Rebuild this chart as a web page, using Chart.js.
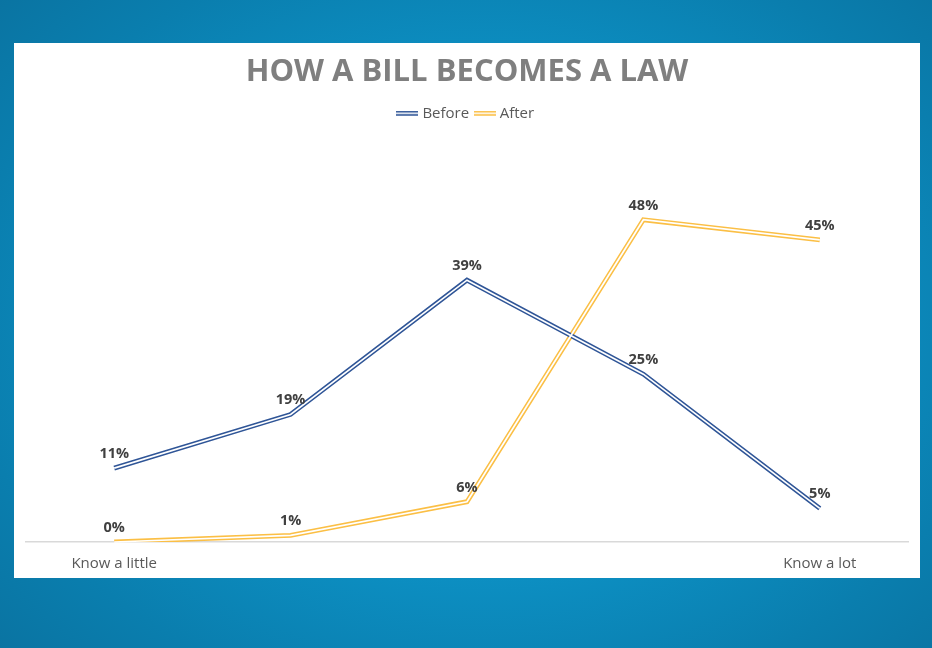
<!DOCTYPE html>
<html>
<head>
<meta charset="utf-8">
<script src="https://cdn.jsdelivr.net/npm/chart.js@4.4.0/dist/chart.umd.min.js"></script>
<style>
html,body{margin:0;padding:0;width:932px;height:648px;overflow:hidden;}
body{background:radial-gradient(ellipse 70% 75% at 52% 50%, #12a2d6 0%, #0d93c7 45%, #0a7eae 80%, #0a74a2 100%);}
#panel{position:absolute;left:14px;top:43px;width:906px;height:535px;background:#fff;}
#panel canvas{display:block;}
</style>
</head>
<body>
<div id="panel"><canvas id="c" width="906" height="535"></canvas></div>
<script>
const categories = ['Know a little', '', '', '', 'Know a lot'];
const beforeValues = [11, 19, 39, 25, 5];
const afterValues = [0, 1, 6, 48, 45];
const seriesNames = ['Before', 'After'];

const COLORS = ['#2f5597', '#fbbf45'];

function legendMarker(color){
  const cv = document.createElement('canvas');
  cv.width = 22; cv.height = 6;
  const g = cv.getContext('2d');
  g.fillStyle = color; g.fillRect(0,0,22,5);
  g.fillStyle = '#fff'; g.fillRect(0,1.7,22,1.6);
  return cv;
}

const legendGap = {
  id: 'legendGap',
  beforeInit(chart){
    const lg = chart.legend;
    if (!lg) return;
    const fit = lg.fit;
    lg.fit = function(){ fit.call(this); this.height += 8; };
  }
};

const doubleLine = {
  id: 'doubleLine',
  afterDatasetsDraw(chart){
    const ctx = chart.ctx;
    chart.data.datasets.forEach((ds, i) => {
      const meta = chart.getDatasetMeta(i);
      if (meta.hidden) return;
      ctx.save();
      ctx.beginPath();
      meta.data.forEach((p, j) => { if (j === 0) ctx.moveTo(p.x, p.y); else ctx.lineTo(p.x, p.y); });
      ctx.strokeStyle = '#ffffff';
      ctx.lineWidth = 1.7;
      ctx.lineJoin = 'miter';
      ctx.stroke();
      ctx.restore();
    });
  }
};

const dataLabels = {
  id: 'dataLabels',
  afterDatasetsDraw(chart){
    const ctx = chart.ctx;
    ctx.save();
    ctx.font = 'bold 14.5px "Open Sans"';
    ctx.fillStyle = '#404040';
    ctx.textAlign = 'center';
    ctx.textBaseline = 'bottom';
    chart.data.datasets.forEach((ds, i) => {
      const meta = chart.getDatasetMeta(i);
      meta.data.forEach((p, j) => {
        ctx.fillText(ds.data[j] + '%', p.x, p.y - 7);
      });
    });
    ctx.restore();
  }
};

new Chart(document.getElementById('c'), {
  type: 'line',
  data: {
    labels: categories,
    datasets: [
      { label: seriesNames[0], data: beforeValues, borderColor: COLORS[0], backgroundColor: COLORS[0], borderWidth: 4.8, pointRadius: 0, tension: 0, borderJoinStyle: 'miter', pointStyle: legendMarker(COLORS[0]) },
      { label: seriesNames[1], data: afterValues, borderColor: COLORS[1], backgroundColor: COLORS[1], borderWidth: 4.8, pointRadius: 0, tension: 0, borderJoinStyle: 'miter', pointStyle: legendMarker(COLORS[1]) }
    ]
  },
  options: {
    responsive: false,
    animation: false,
    layout: { padding: { left: 12, right: 12, top: 8, bottom: 0 } },
    plugins: {
      title: { display: true, text: 'HOW A BILL BECOMES A LAW', color: '#7f7f7f', font: { family: '"Open Sans"', size: 31, weight: 'bold' }, padding: { top: 3, bottom: 7 } },
      legend: { display: true, position: 'top', labels: { usePointStyle: true, color: '#595959', font: { family: '"Open Sans"', size: 15 }, padding: 8, boxWidth: 22 } },
      tooltip: { enabled: false }
    },
    scales: {
      x: { offset: true, grid: { display: false }, border: { display: true, color: '#d9d9d9', width: 1.5 }, ticks: { color: '#595959', font: { family: '"Open Sans"', size: 15 }, autoSkip: false, maxRotation: 0, padding: 5 } },
      y: { display: false, min: 0, max: 60 }
    }
  },
  plugins: [legendGap, doubleLine, dataLabels]
});
</script>
</body>
</html>
